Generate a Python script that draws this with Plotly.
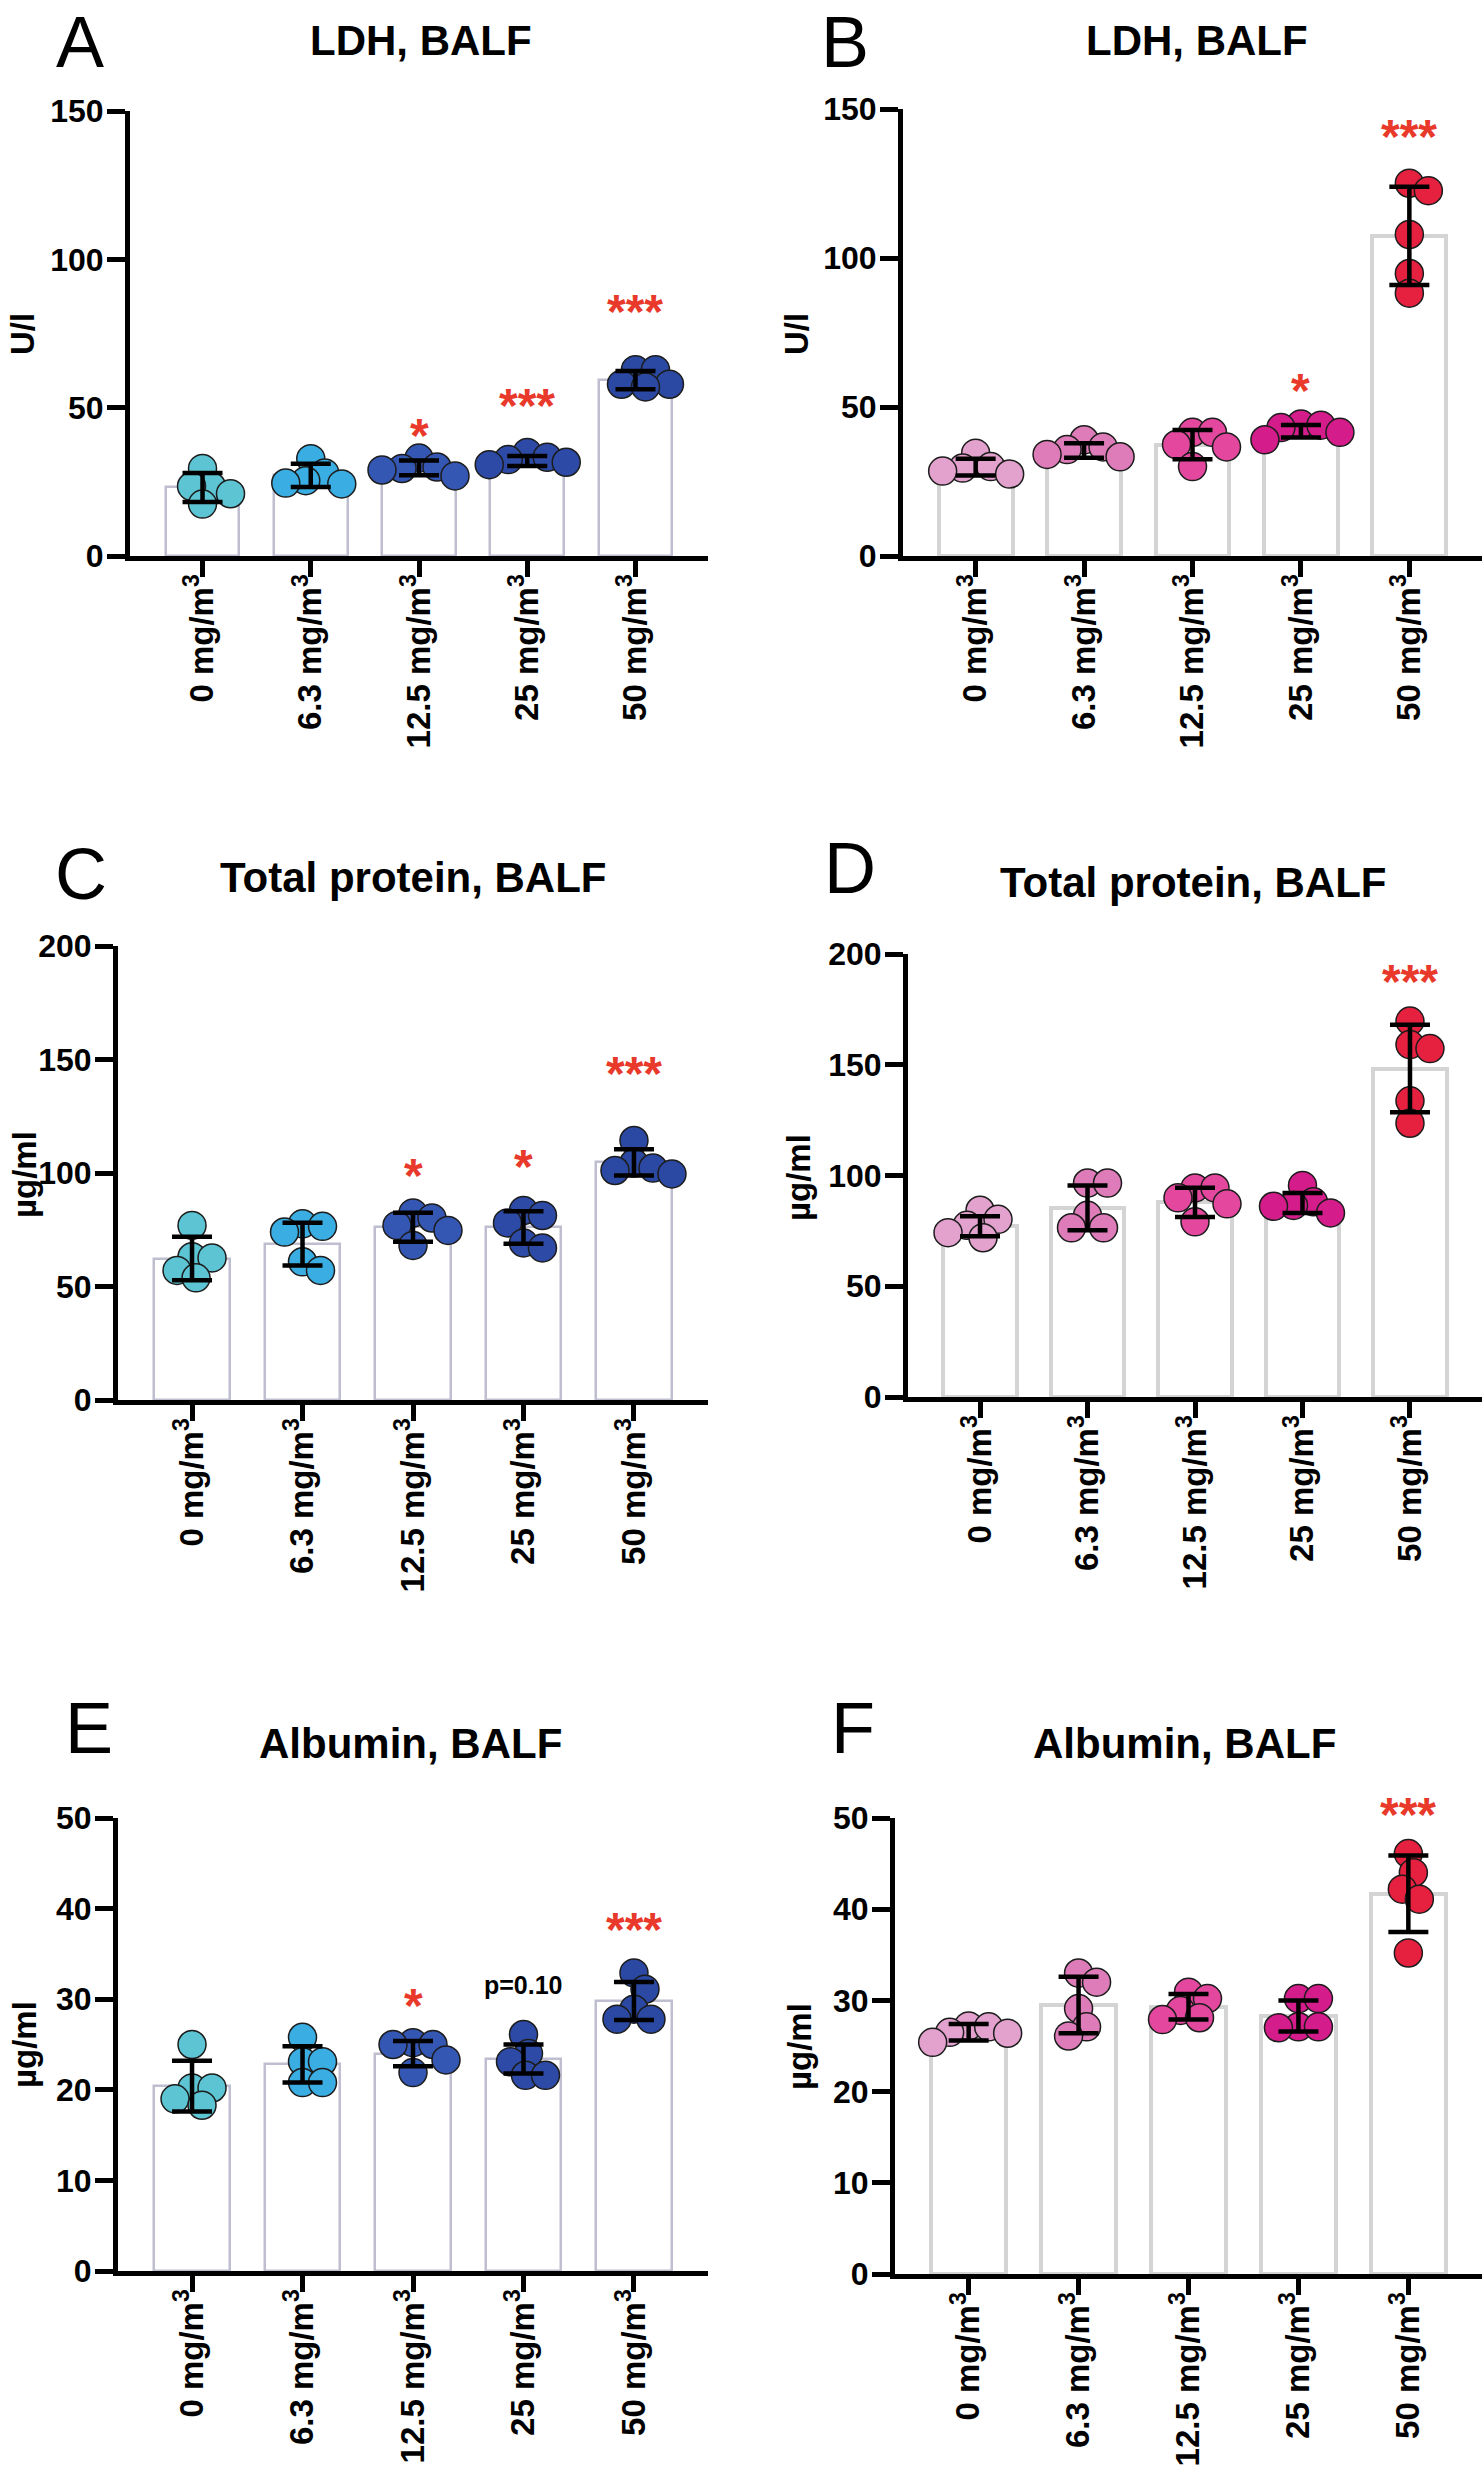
import plotly.graph_objects as go

# ---------------------------------------------------------------- data
CATEGORIES = ["0 mg/m<sup>3</sup>", "6.3 mg/m<sup>3</sup>", "12.5 mg/m<sup>3</sup>",
              "25 mg/m<sup>3</sup>", "50 mg/m<sup>3</sup>"]

# individual animals (5 per group)
A_points = [[29.5, 23.5, 23.5, 21.0, 17.5],
            [32.8, 28.0, 25.4, 24.6, 24.3],
            [33.0, 30.0, 29.5, 29.0, 27.0],
            [34.9, 33.3, 32.5, 31.6, 30.8],
            [62.8, 62.8, 57.9, 57.9, 57.0]]
A_mean = [23.1, 27.2, 29.7, 32.0, 59.3]
A_sd = [4.9, 3.9, 2.5, 1.7, 3.1]

B_points = [[34.5, 30.0, 29.5, 28.5, 27.5],
            [39.0, 36.6, 35.7, 34.1, 33.3],
            [41.5, 41.5, 37.4, 36.6, 30.0],
            [44.3, 43.9, 43.1, 41.5, 39.0],
            [125.1, 122.6, 107.9, 94.8, 88.2]]
B_mean = [29.8, 35.4, 37.4, 41.9, 107.4]
B_sd = [2.8, 2.4, 4.9, 2.1, 16.5]

C_points = [[76.9, 63.1, 62.6, 57.1, 53.8],
            [77.6, 76.5, 74.0, 60.9, 57.1],
            [82.4, 80.2, 76.9, 74.7, 68.1],
            [83.5, 81.3, 78.0, 69.2, 67.0],
            [114.3, 104.4, 102.2, 101.1, 99.6]]
C_mean = [62.3, 68.7, 76.1, 76.0, 104.7]
C_sd = [9.6, 9.4, 6.4, 7.2, 5.8]

D_points = [[84.3, 80.2, 77.5, 74.2, 71.9],
            [96.6, 96.6, 82.0, 76.4, 76.4],
            [94.4, 94.4, 89.9, 87.2, 79.1],
            [95.5, 88.1, 86.5, 86.1, 83.1],
            [169.7, 159.1, 157.3, 133.7, 123.6]]
D_mean = [77.1, 85.4, 87.9, 87.6, 148.3]
D_sd = [4.5, 10.1, 6.6, 4.5, 19.8]

E_points = [[25.0, 20.2, 20.2, 19.0, 18.3],
            [25.8, 23.1, 23.1, 20.8, 20.8],
            [25.2, 25.0, 25.0, 23.3, 21.9],
            [26.1, 24.0, 23.1, 21.6, 21.6],
            [32.9, 31.1, 28.9, 27.8, 27.8]]
E_mean = [20.4, 22.8, 24.0, 23.4, 29.8]
E_sd = [2.8, 2.0, 1.4, 1.6, 2.1]

F_points = [[27.2, 27.1, 26.5, 26.4, 25.4],
            [33.0, 32.0, 29.1, 27.1, 26.1],
            [30.9, 30.2, 28.9, 28.1, 27.9],
            [30.2, 30.2, 27.1, 27.1, 27.0],
            [46.1, 44.0, 42.2, 41.1, 35.2]]
F_mean = [26.5, 29.5, 29.3, 28.3, 41.7]
F_sd = [0.9, 3.1, 1.4, 1.7, 4.2]

# significance marks: (group index, height, text)
A_sig = [(2, 43.1, "*"), (3, 53.0, "***"), (4, 84.9, "***")]
B_sig = [(3, 57.9, "*"), (4, 143.1, "***")]
C_sig = [(2, 102.2, "*"), (3, 105.9, "*"), (4, 146.8, "***")]
D_sig = [(4, 190.6, "***")]
E_sig = [(2, 30.1, "*"), (3, 31.6, "p=0.10"), (4, 38.5, "***")]
F_sig = [(4, 51.1, "***")]

TITLES = ["LDH, BALF", "LDH, BALF", "Total protein, BALF", "Total protein, BALF",
          "Albumin, BALF", "Albumin, BALF"]
LETTERS = ["A", "B", "C", "D", "E", "F"]
YLABELS = ["U/l", "U/l", "µg/ml", "µg/ml", "µg/ml", "µg/ml"]
YMAX = [150, 150, 200, 200, 50, 50]
YDTICK = [50, 50, 50, 50, 10, 10]

# ---------------------------------------------------------------- style
W, H = 1484, 2479
FONT = "Liberation Sans, Arial, Helvetica, sans-serif"
BLUES = ["#5CC4D3", "#3AADE2", "#3557B4", "#2D4BA6", "#2B49A3"]
PINKS = ["#E2A2CD", "#DE7CB9", "#E3489E", "#D41C8A", "#E6203F"]
STAR_RED = "#E8392B"
MARKER = 28
XR = [-0.67, 4.67]

# pixel geometry: axis left, axis right, y top (ymax), y bottom (0)
GEOM = [(130, 708, 111, 556), (903, 1482, 109, 556),
        (118, 708, 946, 1400), (908, 1482, 954, 1397),
        (118, 708, 1818, 2271), (895, 1482, 1818, 2274)]
TITLE_POS = [(421, 41), (1197, 41), (414, 877), (1193, 882), (410, 1743), (1184, 1743)]
# panel letters: x centre, top of the text box
LETTER_POS = [(80, 0), (845, 0), (81, 832), (850, 826), (89, 1686), (853, 1686)]
YLAB_POS = [(22, 334), (796, 334), (24, 1175), (798, 1178), (24, 2045), (799, 2047)]

panels = [
    (A_points, A_mean, A_sd, A_sig, BLUES),
    (B_points, B_mean, B_sd, B_sig, PINKS),
    (C_points, C_mean, C_sd, C_sig, BLUES),
    (D_points, D_mean, D_sd, D_sig, PINKS),
    (E_points, E_mean, E_sd, E_sig, BLUES),
    (F_points, F_mean, F_sd, F_sig, PINKS),
]


def swarm(vals, ppu, ppc, dist):
    """Simple beeswarm: horizontal offsets (category units) so markers don't pile up."""
    placed = []
    offs = [0.0] * len(vals)
    order = sorted(range(len(vals)), key=lambda k: -vals[k])
    for k in order:
        y = vals[k] * ppu
        found = None
        for step in range(0, 300):
            for sgn in ([1] if step == 0 else [1, -1]):
                x = sgn * step
                if all((x - px) ** 2 + (y - py) ** 2 >= dist ** 2 for px, py in placed):
                    found = x
                    break
            if found is not None:
                break
        placed.append((found, y))
        offs[k] = found / ppc
    return offs


fig = go.Figure()
annotations = []

for i, (pts, means, sds, sigs, colors) in enumerate(panels):
    n = i + 1
    xa, ya = ("x", "y") if n == 1 else (f"x{n}", f"y{n}")
    x0, x1, ytop, ybot = GEOM[i]
    left = i % 2 == 0
    ppu = (ybot - ytop) / YMAX[i]
    ppc = (x1 - x0) / (XR[1] - XR[0])

    fig.add_trace(go.Bar(
        x=list(range(5)), y=means, width=0.68, xaxis=xa, yaxis=ya,
        marker=dict(color="white",
                    line=dict(color="#BEBED0" if left else "#D4D4D4", width=2.5 if left else 4)),
    ))
    for g in range(5):
        offs = swarm(pts[g], ppu, ppc, MARKER * 0.7)
        fig.add_trace(go.Scatter(
            x=[g + o for o in offs], y=pts[g], mode="markers", xaxis=xa, yaxis=ya,
            cliponaxis=False,
            marker=dict(size=MARKER, color=colors[g], line=dict(color="#1c1c1c", width=1.5)),
        ))
    fig.add_trace(go.Scatter(
        x=list(range(5)), y=means, mode="markers", xaxis=xa, yaxis=ya, cliponaxis=False,
        marker=dict(size=1, color="rgba(0,0,0,0)"),
        error_y=dict(type="data", array=sds, color="black", thickness=4.5, width=20),
    ))

    axis_common = dict(showline=True, linewidth=5, linecolor="black", ticks="outside",
                       tickwidth=5, tickcolor="black", showgrid=False, zeroline=False,
                       automargin=False)
    fig.layout[f"xaxis{'' if n == 1 else n}"] = dict(
        domain=[x0 / W, x1 / W], range=XR, anchor=ya,
        tickvals=list(range(5)), ticktext=CATEGORIES, tickangle=-90, ticklen=16,
        ticklabelstandoff=-16,
        tickfont=dict(family=FONT, size=33, color="black", weight="bold"),
        **axis_common)
    fig.layout[f"yaxis{'' if n == 1 else n}"] = dict(
        domain=[1 - ybot / H, 1 - ytop / H], range=[0, YMAX[i]], anchor=xa,
        dtick=YDTICK[i], ticklen=18, ticklabelstandoff=-3,
        tickfont=dict(family=FONT, size=32, color="black", weight="bold"),
        **axis_common)

    # y given as a fraction of the axis span so marks above the range still show
    for g, yv, txt in sigs:
        is_star = txt.startswith("*")
        annotations.append(dict(
            x=g, y=yv / YMAX[i], xref=xa, yref=f"{ya} domain", text=txt, showarrow=False,
            xanchor="center", yanchor="middle", yshift=-7 if is_star else 0,
            font=dict(family=FONT, size=48 if is_star else 25,
                      color=STAR_RED if is_star else "black", weight="bold"),
        ))

    tx, ty = TITLE_POS[i]
    annotations.append(dict(
        x=tx / W, y=1 - ty / H, xref="paper", yref="paper", text=TITLES[i],
        showarrow=False, xanchor="center", yanchor="middle",
        font=dict(family=FONT, size=42, color="black", weight="bold")))
    lx, ly = LETTER_POS[i]
    annotations.append(dict(
        x=lx / W, y=1 - ly / H, xref="paper", yref="paper", text=LETTERS[i],
        showarrow=False, xanchor="center", yanchor="top",
        font=dict(family=FONT, size=72, color="black")))
    yx, yy = YLAB_POS[i]
    annotations.append(dict(
        x=yx / W, y=1 - yy / H, xref="paper", yref="paper", text=YLABELS[i],
        showarrow=False, xanchor="center", yanchor="middle", textangle=-90,
        font=dict(family=FONT, size=33, color="black", weight="bold")))

fig.update_layout(
    width=W, height=H, margin=dict(l=0, r=0, t=0, b=0, autoexpand=False),
    paper_bgcolor="white", plot_bgcolor="white", showlegend=False,
    bargap=0, annotations=annotations,
)

# drop the browser's default body margin so the figure sits at the page corner
fig.write_html("out.html", config={"displayModeBar": False},
               post_script="document.body.style.margin = '0';")
